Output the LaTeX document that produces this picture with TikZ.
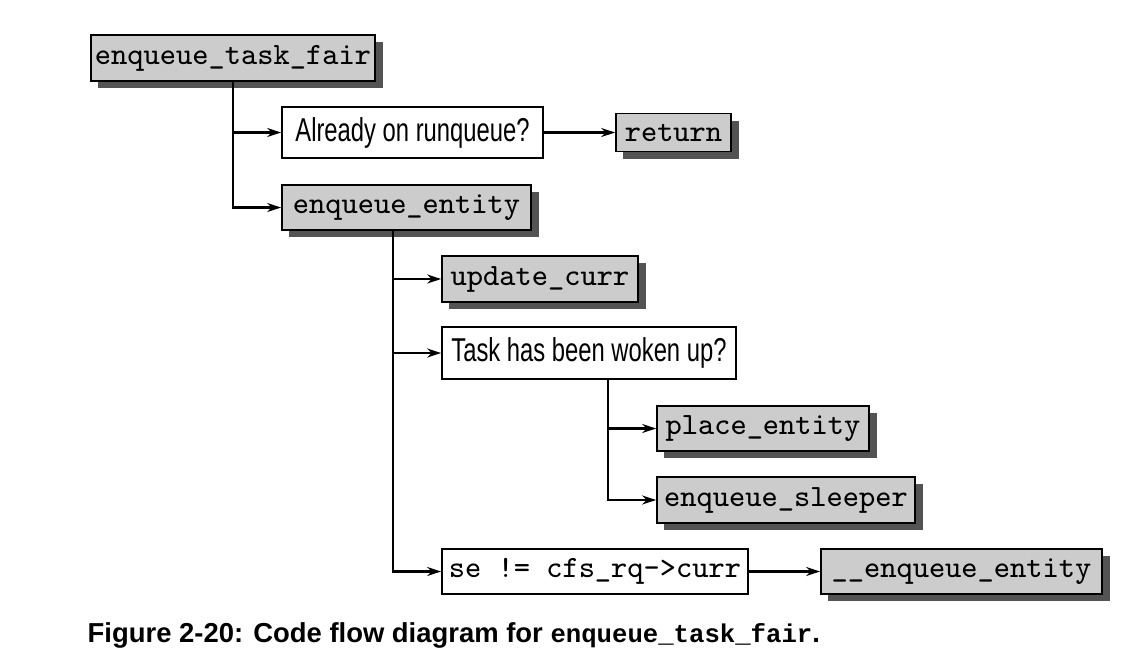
\documentclass[tikz,border=0pt]{standalone}
\usepackage{fontspec}
\usepackage{tikz}
\usetikzlibrary{arrows.meta,shadows}
\newfontfamily\boxsans[FakeStretch=0.72]{Liberation Sans}
\newfontfamily\capsans{Liberation Sans}
\newfontfamily\capmono{Liberation Mono}
\definecolor{boxgray}{HTML}{CCCCCC}
\definecolor{shadowgray}{HTML}{535353}
\tikzset{
  funcbox/.style={draw=black,line width=0.45pt,fill=boxgray,inner sep=0pt,
    font=\ttfamily\fontsize{8.8pt}{10pt}\selectfont,
    general shadow={fill=shadowgray,shadow xshift=0.075cm,shadow yshift=-0.07cm}},
  testbox/.style={draw=black,line width=0.45pt,fill=white,inner sep=0pt},
  flow/.style={line width=0.75pt,-{Stealth[length=0.14cm,width=0.09cm]}}
}

\begin{document}
\begin{tikzpicture}[x=0.01cm,y=-0.01cm]
      \useasboundingbox (0,0) rectangle (1138,666);
      % boxes
      \node[funcbox,minimum width=2.84cm,minimum height=0.46cm] (taskfair) at (233,58) {enqueue\_task\_fair};
      \node[testbox,minimum width=2.61cm,minimum height=0.51cm,font=\boxsans\fontsize{9.4pt}{10pt}\selectfont] (runq) at (412.5,132.5) {Already on runqueue?};
      \node[funcbox,minimum width=1.15cm,minimum height=0.38cm] (ret) at (673.5,132.5) {return};
      \node[funcbox,minimum width=2.49cm,minimum height=0.45cm] (entity) at (406.5,207.5) {enqueue\_entity};
      \node[funcbox,minimum width=1.96cm,minimum height=0.46cm] (updcurr) at (540,279) {update\_curr};
      \node[testbox,minimum width=2.94cm,minimum height=0.52cm,font=\boxsans\fontsize{9.4pt}{10pt}\selectfont] (woken) at (589,353) {Task has been woken up?};
      \node[funcbox,minimum width=2.12cm,minimum height=0.45cm] (place) at (763,428.5) {place\_entity};
      \node[funcbox,minimum width=2.58cm,minimum height=0.46cm] (sleeper) at (786,500) {enqueue\_sleeper};
      \node[testbox,minimum width=3.06cm,minimum height=0.45cm,font=\ttfamily\fontsize{8.8pt}{10pt}\selectfont] (securr) at (595,571.5) {se != cfs\_rq->curr};
      \node[funcbox,minimum width=2.81cm,minimum height=0.45cm] (enqent) at (961.5,571.5) {\_\_enqueue\_entity};

      % trunks
      \coordinate (enttrunk) at (393,230);
      \coordinate (wktrunk) at (608,379);

      % connectors
      \draw[flow] (taskfair.south) |- (runq.west);
      \draw[flow] (taskfair.south) |- (entity.west);
      \draw[flow] (runq.east) -- (ret.west);
      \draw[flow] (enttrunk) |- (updcurr.west);
      \draw[flow] (enttrunk) |- (woken.west);
      \draw[flow] (enttrunk) |- (securr.west);
      \draw[flow] (wktrunk) |- (place.west);
      \draw[flow] (wktrunk) |- (sleeper.west);
      \draw[flow] (securr.east) -- (enqent.west);

      % caption
      \node[anchor=base west,inner sep=0pt,font=\capsans\bfseries\fontsize{7.8pt}{9pt}\selectfont] (caption) at (87,642)
        {Figure 2-20: Code flow diagram for {\capmono\bfseries\fontsize{7.3pt}{9pt}\selectfont enqueue\_task\_fair}.};
\end{tikzpicture}
\end{document}
